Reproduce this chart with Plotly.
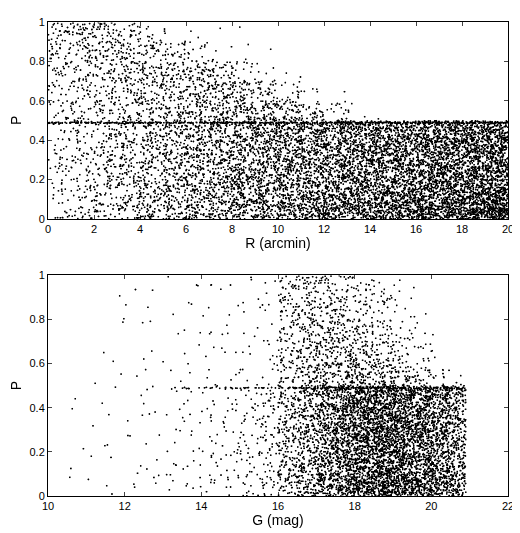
import math
import plotly.graph_objects as go

# Dense scatter: counts read per cell from the picture (rows = P bins from 0.9-1.0 down to 0.0-0.1)
r_edges = list(range(0, 21))
top_counts = [
    [30, 40, 35, 25, 10, 4, 2, 1, 1, 0, 0, 0, 0, 0, 0, 0, 0, 0, 0, 0],
    [25, 30, 35, 35, 30, 25, 15, 5, 2, 1, 0, 0, 0, 0, 0, 0, 0, 0, 0, 0],
    [20, 25, 30, 35, 40, 40, 40, 30, 15, 5, 2, 0, 0, 0, 0, 0, 0, 0, 0, 0],
    [15, 20, 25, 30, 35, 40, 45, 50, 45, 30, 15, 5, 1, 0, 0, 0, 0, 0, 0, 0],
    [15, 20, 25, 30, 35, 40, 45, 50, 55, 60, 50, 35, 15, 4, 1, 0, 0, 0, 0, 0],
    [12, 20, 28, 35, 42, 50, 57, 64, 72, 80, 88, 95, 102, 110, 118, 125, 132, 140, 148, 155],
    [12, 20, 28, 35, 42, 50, 57, 64, 72, 80, 88, 95, 102, 110, 118, 125, 132, 140, 148, 155],
    [12, 20, 28, 35, 42, 50, 57, 64, 72, 80, 88, 95, 102, 110, 118, 125, 132, 140, 148, 155],
    [12, 20, 28, 36, 44, 52, 60, 68, 76, 84, 92, 100, 108, 116, 124, 132, 140, 150, 160, 170],
    [14, 22, 30, 38, 46, 54, 62, 70, 80, 90, 100, 110, 120, 130, 140, 150, 165, 180, 195, 210],
]
top_line_counts = [25] * 20  # points on the P = 0.49 ridge per R bin

g_edges = [10 + 0.5 * i for i in range(22)] + [20.9]
bot_counts = [
    [0, 0, 0, 1, 1, 1, 1, 2, 2, 2, 2, 3, 25, 30, 25, 20, 15, 8, 3, 1, 0, 0],
    [0, 0, 0, 1, 1, 1, 1, 2, 2, 2, 3, 4, 25, 35, 30, 25, 20, 12, 6, 2, 0, 0],
    [0, 0, 0, 1, 1, 1, 1, 2, 2, 3, 3, 4, 25, 35, 40, 35, 30, 20, 10, 4, 1, 0],
    [0, 0, 1, 1, 1, 1, 1, 2, 2, 3, 3, 4, 25, 35, 45, 45, 40, 30, 20, 10, 3, 0],
    [0, 0, 1, 1, 1, 1, 2, 2, 3, 3, 4, 5, 25, 40, 50, 55, 55, 50, 40, 25, 10, 3],
    [0, 1, 1, 1, 2, 2, 3, 4, 5, 7, 10, 15, 40, 60, 90, 120, 150, 160, 150, 130, 110, 60],
    [0, 1, 1, 1, 2, 2, 3, 4, 5, 7, 10, 15, 40, 60, 90, 120, 150, 160, 150, 130, 110, 60],
    [0, 1, 1, 1, 2, 2, 3, 4, 5, 7, 10, 15, 40, 60, 90, 120, 150, 160, 150, 130, 110, 60],
    [0, 1, 1, 1, 2, 2, 3, 4, 5, 7, 10, 15, 40, 60, 90, 120, 150, 160, 150, 130, 110, 60],
    [0, 1, 1, 2, 2, 3, 4, 5, 6, 8, 12, 18, 45, 65, 100, 130, 160, 175, 170, 150, 130, 80],
]
bot_line_counts = [0] * 7 + [6, 6, 6, 6, 8, 15, 15, 15, 15, 15, 15, 15, 15, 15, 12]
p_edges = [0.9 - 0.1 * i for i in range(10)]


def frac_hash(k, s):
    # deterministic position inside a cell
    v = math.sin(k * 12.9898 + s * 78.233) * 43758.5453
    return v - math.floor(v)


def spot(k):
    return frac_hash(k, 1), frac_hash(k, 2)


def fill(edges, counts, line_counts):
    xs, ys, k = [], [], 1
    for row, p0 in zip(counts, p_edges):
        for j, n in enumerate(row):
            x0, x1 = edges[j], edges[j + 1]
            for _ in range(n):
                u, v = spot(k)
                xs.append(x0 + (x1 - x0) * u)
                ys.append(p0 + 0.1 * v)
                k += 1
    for j, n in enumerate(line_counts):
        x0, x1 = edges[j], edges[j + 1]
        for _ in range(n):
            u, v = spot(k)
            xs.append(x0 + (x1 - x0) * u)
            ys.append(0.487 + 0.006 * v)
            k += 1
    return xs, ys


tx, ty = fill(r_edges, top_counts, top_line_counts)
bx, by = fill(g_edges, bot_counts, bot_line_counts)

fig = go.Figure()
mk = dict(color="black", size=2)
fig.add_trace(go.Scattergl(x=tx, y=ty, mode="markers", marker=mk, xaxis="x", yaxis="y"))
fig.add_trace(go.Scattergl(x=bx, y=by, mode="markers", marker=mk, xaxis="x2", yaxis="y2"))

ax = dict(showgrid=False, zeroline=False, showline=True, mirror="ticks", linecolor="black",
          ticks="inside", ticklen=4, tickfont=dict(size=11, color="black"))
fig.update_layout(
    width=520, height=533, showlegend=False,
    plot_bgcolor="white", paper_bgcolor="white",
    margin=dict(l=37, r=20, t=8, b=45),
    font=dict(family="Liberation Sans, Arial", size=12, color="black"),
    xaxis=dict(ax, domain=[0, 1], range=[0, 20], dtick=2, anchor="y",
               title=dict(text="R (arcmin)", standoff=2)),
    yaxis=dict(ax, domain=[0.585, 1], range=[0, 1], dtick=0.2, anchor="x",
               title=dict(text="P", standoff=4)),
    xaxis2=dict(ax, domain=[0, 1], range=[10, 22], dtick=2, anchor="y2",
                title=dict(text="G (mag)", standoff=2)),
    yaxis2=dict(ax, domain=[0, 0.466], range=[0, 1], dtick=0.2, anchor="x2",
                title=dict(text="P", standoff=4)),
)
fig.write_html("out.html")
